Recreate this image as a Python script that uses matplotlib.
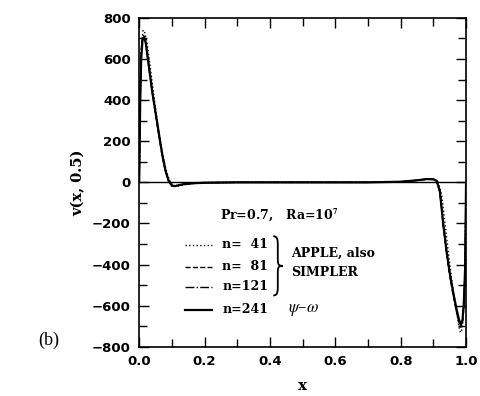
import matplotlib
matplotlib.use('Agg')
import matplotlib.pyplot as plt
from matplotlib.path import Path
from matplotlib.patches import PathPatch
from matplotlib.ticker import MultipleLocator

plt.rcParams['font.family'] = ['DejaVu Serif']
plt.rcParams['mathtext.fontset'] = 'stix'

# v(x, 0.5) profiles for the four grids
x_fine = [0.0, 0.003, 0.006, 0.01, 0.015, 0.02, 0.03, 0.04, 0.05, 0.06, 0.07, 0.08,
          0.09, 0.10, 0.11, 0.12, 0.14, 0.17, 0.2, 0.3, 0.4, 0.5, 0.6, 0.7, 0.8,
          0.85, 0.88, 0.9, 0.91, 0.92, 0.93, 0.94, 0.95, 0.96, 0.97, 0.978,
          0.984, 0.989, 0.993, 0.997, 1.0]
v_241 = [0, 380, 600, 690, 705, 680, 560, 440, 340, 240, 140, 60, 8, -16, -18, -14,
         -8, -4, -2, 0, 0, 0, 0, 0, 3, 10, 16, 15, 8, -45, -200, -330, -440, -530,
         -610, -665, -690, -670, -590, -420, 0]
v_121 = [0, 400, 620, 700, 708, 678, 558, 438, 335, 235, 136, 58, 7, -16, -18, -14,
         -8, -4, -2, 0, 0, 0, 0, 0, 3, 10, 16, 15, 7, -47, -205, -338, -447, -537,
         -617, -672, -697, -677, -595, -425, 0]
v_81 = [0, 420, 640, 715, 712, 675, 555, 435, 330, 230, 132, 55, 6, -17, -19, -14,
        -7, -3, -1, 0, 0, 0, 0, 0, 3, 10, 16, 14, 6, -50, -210, -345, -455, -545,
        -625, -680, -705, -685, -600, -430, 0]
x_41 = [0.0, 0.004, 0.008, 0.012, 0.018, 0.025, 0.035, 0.045, 0.055, 0.065, 0.075,
        0.085, 0.095, 0.105, 0.115, 0.13, 0.16, 0.2, 0.3, 0.5, 0.7, 0.8, 0.85, 0.88,
        0.9, 0.915, 0.925, 0.935, 0.945, 0.955, 0.965, 0.972, 0.978, 0.983, 0.988,
        0.992, 0.996, 1.0]
v_41 = [0, 480, 690, 740, 725, 665, 545, 420, 300, 195, 110, 45, 2, -18, -20, -14,
        -6, -2, 0, 0, 0, 2, 9, 15, 14, 2, -60, -190, -330, -460, -570, -640, -700,
        -730, -715, -640, -470, 0]

series = [
    ('n=  41', x_41, v_41, ':', 1.0),
    ('n=  81', x_fine, v_81, '--', 1.0),
    ('n=121', x_fine, v_121, '-.', 1.0),
    ('n=241', x_fine, v_241, '-', 1.6),
]

fig = plt.figure(figsize=(4.8, 3.96), dpi=100)
ax = fig.add_axes([0.29, 0.124, 0.681, 0.831])

for label, xs, vs, ls, lw in series:
    ax.plot(xs, vs, linestyle=ls, color='black', linewidth=lw)

ax.axhline(0, color='black', linewidth=1.0)

ax.set_xlim(0, 1)
ax.set_ylim(-800, 800)
ax.xaxis.set_major_locator(MultipleLocator(0.2))
ax.xaxis.set_minor_locator(MultipleLocator(0.1))
ax.yaxis.set_major_locator(MultipleLocator(200))
ax.yaxis.set_minor_locator(MultipleLocator(100))
ax.tick_params(which='both', direction='in', top=True, right=True, width=1.0)
ax.tick_params(which='major', length=7, pad=6)
ax.tick_params(which='minor', length=6)
for s in ax.spines.values():
    s.set_linewidth(1.2)

tick_font = dict(family='DejaVu Sans', fontweight='bold', fontsize=9.5)
ax.set_xticklabels(['%.1f' % t for t in ax.get_xticks()], **tick_font)
ax.set_yticklabels(['%d' % t if t >= 0 else '\u2212%d' % -t for t in ax.get_yticks()],
                   **tick_font)

ax.set_xlabel('x', fontsize=11, fontweight='bold', labelpad=8)
ax.set_ylabel('v(x, 0.5)', fontsize=10.5, fontweight='bold', labelpad=5)

# annotation block
ax.text(0.248, -155, r'Pr=0.7,   Ra=10$^{\mathbf{7}}$', fontsize=9, fontweight='bold',
        va='center', ha='left')
rows = [-304, -411, -508, -620]
for (label, xs, vs, ls, lw), yr in zip(series, rows):
    ax.plot([0.141, 0.223], [yr, yr], linestyle=ls, color='black', linewidth=lw)
    ax.text(0.254, yr, label, fontsize=9, fontweight='bold', va='center', ha='left')

# curly brace grouping the first three grids
xl, xm, xr = 0.410, 0.424, 0.439
yt, ym, yb = -262, -406, -550
brace = Path(
    [(xl, yt), (xm, yt), (xm, yt - 20), (xm, yt - 50),
     (xm, ym + 40),
     (xm, ym + 10), (xm, ym), (xr, ym),
     (xm, ym), (xm, ym - 10), (xm, ym - 40),
     (xm, yb + 50),
     (xm, yb + 20), (xm, yb), (xl, yb)],
    [Path.MOVETO, Path.CURVE4, Path.CURVE4, Path.CURVE4,
     Path.LINETO,
     Path.CURVE4, Path.CURVE4, Path.CURVE4,
     Path.CURVE4, Path.CURVE4, Path.CURVE4,
     Path.LINETO,
     Path.CURVE4, Path.CURVE4, Path.CURVE4])
ax.add_patch(PathPatch(brace, facecolor='none', edgecolor='black', linewidth=1.3))

ax.text(0.465, -343, 'APPLE, also', fontsize=9, fontweight='bold', va='center', ha='left')
ax.text(0.465, -440, 'SIMPLER', fontsize=9, fontweight='bold', va='center', ha='left')
ax.text(0.456, -620, r'$\psi$–$\omega$', fontsize=12, va='center', ha='left')

fig.text(0.079, 0.141, '(b)', fontsize=13, family='Liberation Serif', ha='left', va='center')

fig.savefig('out.png', dpi=100)
